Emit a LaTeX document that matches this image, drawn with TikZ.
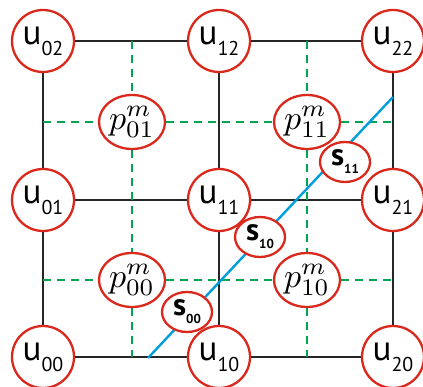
\documentclass[tikz,border=0pt]{standalone}
\usepackage{graphicx}
\usepackage{fontspec}
\setsansfont{PT Sans}
\usetikzlibrary{shapes.geometric,backgrounds}
\definecolor{nodered}{RGB}{218,41,28}
\definecolor{dashgreen}{RGB}{0,165,80}
\definecolor{lineblue}{RGB}{0,158,219}
\newcommand{\ulab}[1]{{\sffamily\fontsize{35}{35}\selectfont u\raisebox{-11pt}{\fontsize{20}{20}\selectfont #1}}}
\newcommand{\slab}[1]{{\sffamily\bfseries\fontsize{31}{31}\selectfont s\raisebox{-8pt}{\fontsize{13}{13}\selectfont #1}}}
\newcommand{\plab}[1]{\scalebox{3.4}{$p^{m}_{#1}$}}
\begin{document}
\begin{tikzpicture}[x=1pt,y=-1pt,
  unode/.style={circle,draw=nodered,line width=2.3pt,fill=white,minimum size=62pt,inner sep=0pt},
  pnode/.style={ellipse,draw=nodered,line width=2.3pt,fill=white,minimum width=66pt,minimum height=54pt,inner sep=0pt},
  snode/.style={ellipse,draw=nodered,line width=2.3pt,fill=white,minimum width=50pt,minimum height=40pt,inner sep=0pt},
  gridline/.style={line width=2pt,black!85},
  greendash/.style={line width=2.3pt,dashgreen,dash pattern=on 8pt off 6pt},
  blueline/.style={line width=2.4pt,lineblue}]
\useasboundingbox (0,0) rectangle (423,387);
% u nodes
\node[unode] (u02) at (43,41) {\ulab{02}};
\node[unode] (u12) at (219,41) {\ulab{12}};
\node[unode] (u22) at (393,41) {\ulab{22}};
\node[unode] (u01) at (43,200) {\ulab{01}};
\node[unode] (u11) at (219,200) {\ulab{11}};
\node[unode] (u21) at (393,200) {\ulab{21}};
\node[unode] (u00) at (43,357) {\ulab{00}};
\node[unode] (u10) at (219,357) {\ulab{10}};
\node[unode] (u20) at (393,357) {\ulab{20}};
% p nodes
\node[pnode] (p01) at (132,122) {\plab{01}};
\node[pnode] (p11) at (307,122) {\plab{11}};
\node[pnode] (p00) at (132,280) {\plab{00}};
\node[pnode] (p10) at (307,280) {\plab{10}};
% s nodes
\node[snode] (s00) at (187,312) {\slab{00}};
\node[snode] (s10) at (260,237) {\slab{10}};
\node[snode] (s11) at (345,162) {\slab{11}};
% free ends
\coordinate (t1) at (132,41);
\coordinate (b1) at (132,357);
\coordinate (t2) at (307,41);
\coordinate (b2) at (307,357);
\coordinate (l1) at (43,122);
\coordinate (r1) at (393,122);
\coordinate (l2) at (43,280);
\coordinate (r2) at (393,280);
\coordinate (bs) at (148,358);
\coordinate (be) at (393,97);
\begin{pgfonlayer}{background}
\draw[gridline] (u02) -- (u12) -- (u22);
\draw[gridline] (u01) -- (u11) -- (u21);
\draw[gridline] (u00) -- (u10) -- (u20);
\draw[gridline] (u02) -- (u01) -- (u00);
\draw[gridline] (u12) -- (u11) -- (u10);
\draw[gridline] (u22) -- (u21) -- (u20);
\draw[greendash] (t1) -- (p01) -- (p00) -- (b1);
\draw[greendash] (t2) -- (p11) -- (p10) -- (b2);
\draw[greendash] (l1) -- (p01) -- (p11) -- (r1);
\draw[greendash] (l2) -- (p00) -- (p10) -- (r2);
\draw[blueline] (bs) -- (be);
\end{pgfonlayer}
\end{tikzpicture}
\end{document}
